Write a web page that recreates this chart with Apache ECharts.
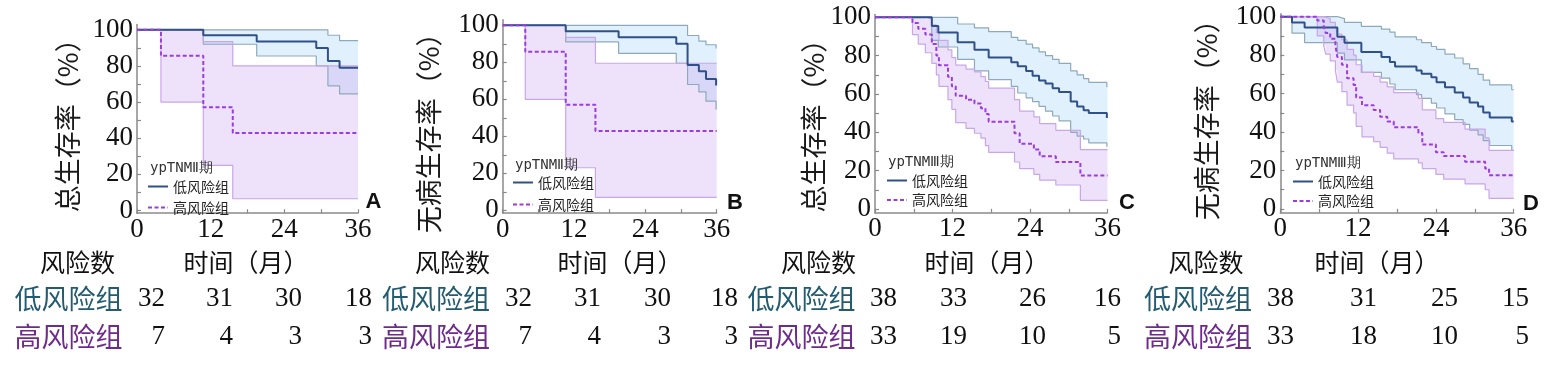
<!DOCTYPE html>
<html><head><meta charset="utf-8">
<script src="https://cdn.jsdelivr.net/npm/echarts@6/dist/echarts.min.js"></script>
<style>html,body{margin:0;padding:0;background:#fff}#c{width:1555px;height:369px}</style>
</head><body><div id="c"></div><script>
// ---------------- data ----------------
const groupNames = ['低风险组', '高风险组'];
const yNames = ['总生存率（%）', '无病生存率（%）', '总生存率（%）', '无病生存率（%）'];
const stageLabels = ['ypTNMⅡ期', 'ypTNMⅡ期', 'ypTNMⅢ期', 'ypTNMⅢ期'];
const panelLetters = ['A', 'B', 'C', 'D'];
const xTickLabels = [0, 12, 24, 36];
const xMinorTicks = [0, 6, 12, 18, 24, 30, 36];
const yTickLabels = [0, 20, 40, 60, 80, 100];
const yMinorTicks = [0, 10, 20, 30, 40, 50, 60, 70, 80, 90, 100];
const riskHeader = ['风险数', '时间（月）'];

// Panel A
const lowA_t  = [0, 10.8, 19.5, 29.2, 31.1, 33.0, 36];
const lowA_s  = [100, 97, 93.5, 90, 82.7, 79, 79];
const lowA_lo = [100, 92, 85.5, 80, 69, 64.5, 64.5];
const lowA_hi = [100, 100, 100, 100, 97, 94, 94];
const highA_t  = [0, 3.9, 10.8, 15.6, 36];
const highA_s  = [100, 85.7, 57.1, 42.9, 42.9];
const highA_lo = [100, 60, 25, 6.5, 6.5];
const highA_hi = [100, 100, 93.5, 80, 80];

// Panel B
const lowB_t  = [0, 10.6, 19.5, 29.2, 31.1, 33.0, 34.2, 35.9, 36];
const lowB_s  = [100, 96.8, 93.5, 90, 78.6, 75.2, 71, 67.5, 67.5];
const lowB_lo = [100, 91, 84.8, 79.5, 68, 64, 59, 54.5, 54.5];
const lowB_hi = [100, 100, 100, 100, 94.5, 91.5, 89.5, 87.5, 87.5];
const highB_t  = [0, 3.8, 10.6, 15.6, 36];
const highB_s  = [100, 85.7, 57.1, 42.9, 42.9];
const highB_lo = [100, 60, 23, 7, 7];
const highB_hi = [100, 100, 93.5, 79.5, 79.5];

// Panel C
const lowC_t  = [0, 8.8, 9.8, 12.8, 15.4, 17.6, 21.1, 22.1, 23.4, 24.4, 25.4, 26.4, 27.5, 28.5, 30.3, 31.3, 32.3, 33.1, 35.9, 36];
const lowC_s  = [100, 95.5, 92, 87, 83, 79, 76.5, 74.5, 72, 69.5, 67, 65.5, 63, 61, 56, 53.5, 51.5, 50, 47.5, 47.5];
const lowC_lo = [100, 88, 84.5, 78, 72, 67.5, 64, 60.5, 58, 56, 53.5, 51, 48.5, 46, 40, 38, 36.5, 34.5, 32.5, 32.5];
const lowC_hi = [100, 100, 100, 96.5, 94.5, 92.5, 89.5, 88, 86, 84, 82, 80, 78, 76, 72, 70, 68, 66, 63.5, 63.5];
const highC_t  = [0, 5.8, 6.7, 7.8, 8.8, 9.5, 9.9, 11.3, 11.9, 12.5, 14.1, 15.4, 16.4, 17.1, 17.6, 21.6, 22.4, 24.6, 25.5, 28.0, 31.8, 36];
const highC_s  = [100, 97, 94, 91, 86, 80, 75, 69, 64, 59, 57, 55, 52.5, 49.5, 45.5, 39.5, 34, 31, 27.5, 24.5, 17.5, 17.5];
const highC_lo = [100, 91, 86, 81.5, 76, 70, 64, 57, 52, 45, 42, 39.5, 37, 33, 29.5, 24.5, 21, 18, 15, 12.5, 4.5, 4.5];
const highC_hi = [100, 100, 100, 99, 96, 92, 88, 83, 79, 75, 73, 71.5, 69, 66.5, 63, 57, 51, 48, 44.5, 41, 31, 31];

// Panel D
const lowD_t  = [0, 1.8, 3.75, 8.8, 9.9, 12.5, 15.6, 16.9, 17.7, 21.0, 21.8, 23.3, 24.1, 25.4, 26.9, 28.2, 29.2, 30.5, 31.3, 32.3, 35.7, 36];
const lowD_s  = [100, 97, 94.4, 89.5, 86.5, 81.6, 79, 76.4, 74.1, 72, 70.3, 68.5, 65.9, 63.3, 60.6, 58, 55.4, 53.3, 50.2, 47.6, 45.5, 45.5];
const lowD_lo = [100, 91.5, 86.5, 81, 77.5, 71, 68, 65, 62, 59.5, 57.5, 55, 52.5, 49.5, 46.5, 44, 41, 38.5, 35.5, 33, 30.5, 30.5];
const lowD_hi = [100, 100, 100, 99, 97, 95, 93.5, 92, 89.5, 88, 86.5, 84.5, 83, 80.5, 78.5, 75.5, 73, 70, 67, 64.5, 62, 62];
const highD_t  = [0, 5.7, 6.7, 7.0, 7.7, 8.5, 8.8, 9.5, 10.3, 11.3, 11.7, 12.6, 14.4, 15.4, 16.5, 17.5, 21.3, 21.9, 24.0, 25.2, 28.5, 31.6, 32.2, 36];
const highD_s  = [100, 98, 95, 91.5, 88.5, 85, 79, 75, 68, 64.5, 58, 54, 51.5, 48, 45.5, 42.5, 39.5, 33.5, 29.5, 27.5, 24.5, 21, 17.5, 17.5];
const highD_lo = [100, 90, 85, 80.5, 77, 72, 66, 61, 54, 50, 43, 37.5, 35, 32, 29, 26, 24, 21, 18, 15.5, 13, 10, 5.5, 5.5];
const highD_hi = [100, 100, 100, 99, 97, 95, 91, 88, 83, 80, 75, 71, 69, 66, 63.5, 60.5, 57.5, 51.5, 47, 45, 41.5, 37, 30.5, 30.5];

// Numbers at risk (columns: 0, 12, 24, 36 months)
const riskLowA = [32, 31, 30, 18];
const riskHighA = [7, 4, 3, 3];
const riskLowB = [32, 31, 30, 18];
const riskHighB = [7, 4, 3, 3];
const riskLowC = [38, 33, 26, 16];
const riskHighC = [33, 19, 10, 5];
const riskLowD = [38, 31, 25, 15];
const riskHighD = [33, 18, 10, 5];

// ---------------- layout / style ----------------
const CJK = '"Noto Sans CJK SC", sans-serif';
const SERIF = '"Liberation Serif", "DejaVu Serif", serif';
const lowLine = '#2f5088', highLine = '#9a3ce0';
const lowBandLine = '#8ea9ba', highBandLine = '#c8a6e8';
const lowFill = 'rgba(168,214,250,0.36)', highFill = 'rgba(198,158,240,0.30)';
const axisColor = '#8a8a8a';
const solidIcon = 'path://M0,0h20v2h-20z';
const dashIcon = 'path://M0,0h4v2h-4z M6.5,0h4v2h-4z M13,0h4v2h-4z M19.5,0h0.5v2h-0.5z';

const panels = [
  { low: [lowA_t, lowA_s, lowA_lo, lowA_hi], high: [highA_t, highA_s, highA_lo, highA_hi],
    grid: { left: 137, top: 24.4, width: 221, height: 188.8 }, ymin: -1.5, ymax: 103, nameGap: 56, namePad: 0,
    legend: { left: 148, top: 179.5, gap: 6 }, stage: { left: 150, top: 161 }, letter: [373.5, 202],
    risk: [riskLowA, riskHighA], cols: [165, 233, 302, 372], labelX: 68.5, headX: [77.5, 246] },
  { low: [lowB_t, lowB_s, lowB_lo, lowB_hi], high: [highB_t, highB_s, highB_lo, highB_hi],
    grid: { left: 502.7, top: 19.75, width: 214, height: 193.35 }, ymin: -1.5, ymax: 103, nameGap: 60, namePad: 20,
    legend: { left: 513, top: 175.5, gap: 7 }, stage: { left: 515, top: 158.5 }, letter: [735, 203],
    risk: [riskLowB, riskHighB], cols: [532, 601, 671, 738], labelX: 436, headX: [452.5, 620] },
  { low: [lowC_t, lowC_s, lowC_lo, lowC_hi], high: [highC_t, highC_s, highC_lo, highC_hi],
    grid: { left: 875, top: 14.4, width: 232.5, height: 198.4 }, ymin: -2, ymax: 101.5, nameGap: 48, namePad: 11,
    legend: { left: 887, top: 173.5, gap: 4.5 }, stage: { left: 888, top: 155 }, letter: [1127, 203],
    risk: [riskLowC, riskHighC], cols: [897, 967, 1046, 1121], labelX: 801.5, headX: [818.5, 987] },
  { low: [lowD_t, lowD_s, lowD_lo, lowD_hi], high: [highD_t, highD_s, highD_lo, highD_hi],
    grid: { left: 1280.3, top: 13.8, width: 233.4, height: 199 }, ymin: -2, ymax: 101.5, nameGap: 60, namePad: 0,
    legend: { left: 1293, top: 174.5, gap: 4.5 }, stage: { left: 1295, top: 156.5 }, letter: [1531, 204],
    risk: [riskLowD, riskHighD], cols: [1294, 1377, 1458, 1529], labelX: 1198, headX: [1206, 1377] }
];

function pairs(t, v) { return t.map((x, i) => [x, v[i]]); }

// confidence band as a step polygon, positioned by the axes' own scales
function bandSeries(i, t, lo, hi, fill, name) {
  return {
    type: 'custom', name: name, xAxisIndex: i, yAxisIndex: i, silent: true, z: 1,
    data: [[t[0], hi[0]]],
    renderItem: function (params, api) {
      const pts = [];
      for (let k = 0; k < t.length; k++) {
        if (k > 0) pts.push(api.coord([t[k], hi[k - 1]]));
        pts.push(api.coord([t[k], hi[k]]));
      }
      for (let k = t.length - 1; k >= 0; k--) {
        pts.push(api.coord([t[k], lo[k]]));
        if (k > 0) pts.push(api.coord([t[k], lo[k - 1]]));
      }
      return { type: 'polygon', shape: { points: pts }, style: { fill: fill } };
    }
  };
}

const grids = [], xAxes = [], yAxes = [], series = [], legends = [], titles = [], graphics = [];

panels.forEach((p, i) => {
  grids.push(Object.assign({ containLabel: false }, p.grid));
  xAxes.push({
    type: 'value', gridIndex: i, min: 0, max: 36,
    axisLine: { show: true, onZero: false, lineStyle: { color: axisColor, width: 1.5 } },
    axisTick: { show: true, inside: true, length: 4, customValues: xMinorTicks, lineStyle: { color: axisColor, width: 1.2 } },
    axisLabel: { customValues: xTickLabels, margin: 3, fontSize: 27, fontFamily: SERIF, color: '#111' },
    splitLine: { show: false }
  });
  yAxes.push({
    type: 'value', gridIndex: i, min: p.ymin, max: p.ymax,
    name: yNames[i], nameLocation: 'middle', nameRotate: 90, nameGap: p.nameGap, nameMoveOverlap: false,
    nameTextStyle: { fontSize: 27, fontFamily: CJK, color: '#1a1a1a', padding: [0, p.namePad, 0, 0] },
    axisLine: { show: true, onZero: false, lineStyle: { color: axisColor, width: 1.5 } },
    axisTick: { show: true, inside: true, length: 4, customValues: yMinorTicks, lineStyle: { color: axisColor, width: 1.2 } },
    axisLabel: { customValues: yTickLabels, margin: 4, fontSize: 27, fontFamily: SERIF, color: '#111' },
    splitLine: { show: false }
  });

  const bands = [
    { d: p.low, line: lowBandLine, fill: lowFill, name: groupNames[0] },
    { d: p.high, line: highBandLine, fill: highFill, name: groupNames[1] }
  ];
  bands.forEach(b => {
    const [t, s, lo, hi] = b.d;
    series.push(bandSeries(i, t, lo, hi, b.fill, b.name + '95%CI'));
  });
  bands.forEach(b => {
    const [t, s, lo, hi] = b.d;
    series.push({
      name: b.name + '95%CI下限', type: 'line', xAxisIndex: i, yAxisIndex: i, step: 'end',
      symbol: 'none', data: pairs(t, lo), silent: true, z: 2, lineStyle: { color: b.line, width: 1.2 }
    });
    series.push({
      name: b.name + '95%CI上限', type: 'line', xAxisIndex: i, yAxisIndex: i, step: 'end',
      symbol: 'none', data: pairs(t, hi), silent: true, z: 2, lineStyle: { color: b.line, width: 1.2 }
    });
  });
  series.push({
    name: groupNames[0], type: 'line', xAxisIndex: i, yAxisIndex: i, step: 'end', symbol: 'none', z: 3,
    data: pairs(p.low[0], p.low[1]), lineStyle: { color: lowLine, width: 2 }, itemStyle: { color: lowLine }
  });
  series.push({
    name: groupNames[1], type: 'line', xAxisIndex: i, yAxisIndex: i, step: 'end', symbol: 'none', z: 3,
    data: pairs(p.high[0], p.high[1]), lineStyle: { color: highLine, width: 2, type: [4, 2.5] }, itemStyle: { color: highLine }
  });

  legends.push({
    orient: 'vertical', left: p.legend.left, top: p.legend.top, padding: 0,
    itemWidth: 20, itemHeight: 2, itemGap: p.legend.gap + 1, selectedMode: false,
    data: [{ name: groupNames[0], icon: solidIcon }, { name: groupNames[1], icon: dashIcon }],
    textStyle: { fontSize: 14, fontFamily: CJK, color: '#222' }
  });
  titles.push({
    text: stageLabels[i], left: p.stage.left, top: p.stage.top, padding: 0,
    textStyle: { fontSize: 14, fontWeight: 'normal', fontFamily: '"DejaVu Sans Mono", monospace', color: '#333' }
  });

  graphics.push({ type: 'text', x: p.letter[0], y: p.letter[1], style: {
    text: panelLetters[i], align: 'center', verticalAlign: 'middle', textAlign: 'center', textVerticalAlign: 'middle',
    font: 'bold 22px "Liberation Sans", Arial, sans-serif', fill: '#111' } });

  const rowY = [262.5, 299, 336.5];
  graphics.push({ type: 'text', x: p.headX[0], y: rowY[0], style: {
    text: riskHeader[0], align: 'center', verticalAlign: 'middle', textAlign: 'center', textVerticalAlign: 'middle',
    font: '25px ' + CJK, fill: '#111' } });
  graphics.push({ type: 'text', x: p.headX[1], y: rowY[0], style: {
    text: riskHeader[1], align: 'center', verticalAlign: 'middle', textAlign: 'center', textVerticalAlign: 'middle',
    font: '25px ' + CJK, fill: '#111' } });
  const rowColors = ['#235b70', '#6e2b8c'];
  [0, 1].forEach(r => {
    graphics.push({ type: 'text', x: p.labelX, y: rowY[r + 1], style: {
      text: groupNames[r], align: 'center', verticalAlign: 'middle', textAlign: 'center', textVerticalAlign: 'middle',
      font: '27px ' + CJK, fill: rowColors[r] } });
    p.risk[r].forEach((n, c) => {
      graphics.push({ type: 'text', x: p.cols[c], y: rowY[r + 1], style: {
        text: String(n), align: 'right', verticalAlign: 'middle', textAlign: 'right', textVerticalAlign: 'middle',
        font: '27px ' + SERIF, fill: '#111' } });
    });
  });
});

const chart = echarts.init(document.getElementById('c'), null, { renderer: 'canvas' });
chart.setOption({
  animation: false,
  backgroundColor: '#ffffff',
  title: titles,
  legend: legends,
  grid: grids,
  xAxis: xAxes,
  yAxis: yAxes,
  series: series,
  graphic: { elements: graphics }
});
</script></body></html>
